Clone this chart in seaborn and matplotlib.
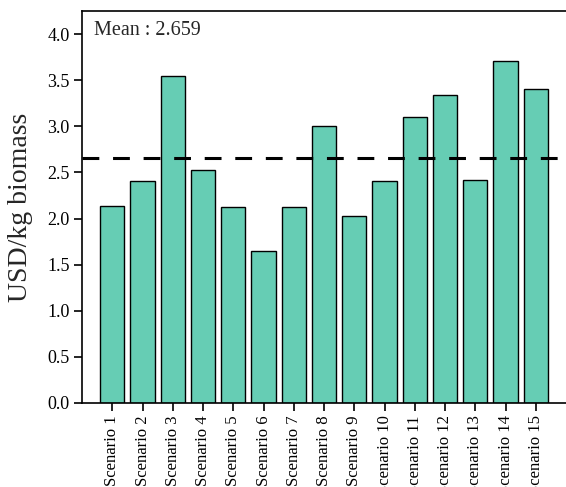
import matplotlib
matplotlib.use('Agg')

import matplotlib.pyplot as plt
import pandas as pd
import seaborn as sns

scenarios = [f"Scenario {i}" for i in range(1, 16)]
costs = [2.135, 2.41, 3.545, 2.525, 2.125, 1.648, 2.125, 3.00,
         2.027, 2.41, 3.10, 3.34, 2.42, 3.71, 3.40]
mean_value = 2.659

df = pd.DataFrame({"scenario": scenarios, "cost": costs})

sns.set_style("ticks")
plt.rcParams['font.family'] = ['Liberation Serif', 'DejaVu Serif']

fig = plt.figure(figsize=(5.66, 4.87), dpi=100)
ax = fig.add_axes([0.145, 0.1725, 0.855, 0.805])

sns.barplot(data=df, x="scenario", y="cost", color="#66CDB4",
            edgecolor="black", linewidth=1, width=0.8, saturation=1, ax=ax)
ax.axhline(mean_value, color="black", linestyle=(0, (5.5, 4.5)), linewidth=2.2)

ax.set_xlim(-1, 15)
ax.set_ylim(0, 4.25)
ax.set_yticks([0, 0.5, 1.0, 1.5, 2.0, 2.5, 3.0, 3.5, 4.0])
ax.set_yticklabels([f"{v:.1f}" for v in ax.get_yticks()], fontsize=13)
ax.set_xticks(range(len(scenarios)))
ax.set_xticklabels(scenarios, rotation=90, fontsize=12)
ax.tick_params(direction="out", length=6, width=1.2, colors="black", pad=3)
ax.set_xlabel("")
ax.set_ylabel("USD/kg biomass", fontsize=20, labelpad=10)

for side in ["left", "bottom", "top"]:
    ax.spines[side].set_linewidth(1.2)
    ax.spines[side].set_color("black")
ax.spines["right"].set_visible(False)

ax.text(0.025, 0.975, f"Mean : {mean_value}", transform=ax.transAxes,
        ha="left", va="top", fontsize=14.5)

fig.savefig("out.png", dpi=100)
